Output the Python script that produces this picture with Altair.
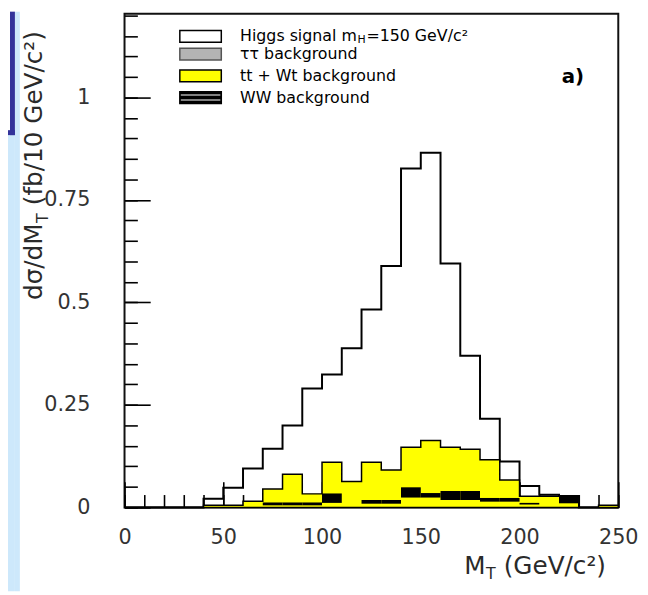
import altair as alt
import pandas as pd

# ---------------- data ----------------
bin_lo = list(range(0, 250, 10))          # M_T bin lower edges, 10 GeV bins
signal = [0, 0, 0, 0, 0.021, 0.048, 0.095, 0.143, 0.200, 0.290, 0.324, 0.388, 0.483,
          0.589, 0.827, 0.865, 0.595, 0.370, 0.216, 0.112, 0.052, 0.031, 0.028, 0, 0]
ttbar = [0, 0, 0, 0, 0.005, 0.005, 0.015, 0.045, 0.081, 0.033, 0.110, 0.063, 0.110,
         0.091, 0.147, 0.163, 0.147, 0.142, 0.116, 0.067, 0.027, 0.027, 0.027, 0, 0.005]
ww_lo = [0, 0, 0, 0, 0, 0, 0, 0.005, 0.005, 0.005, 0.011, 0, 0.009, 0.009, 0.024,
         0.024, 0.018, 0.018, 0.014, 0.014, 0.007, 0, 0.010, 0, 0]
ww_hi = [0, 0, 0, 0, 0, 0, 0, 0.012, 0.012, 0.012, 0.034, 0, 0.018, 0.018, 0.049,
         0.035, 0.040, 0.040, 0.023, 0.023, 0.011, 0, 0.028, 0, 0]

x_major = [0, 50, 100, 150, 200, 250]
x_minor = list(range(0, 251, 10))
y_major = [0, 0.25, 0.5, 0.75, 1.0]
y_minor = [round(0.05 * i, 2) for i in range(25)]

leg_labels = ["Higgs signal m", "\u03c4\u03c4 background", "tt + Wt background", "WW background"]
leg_fill = ["white", "#b4b4b4", "#ffff00", "black"]
leg_stroke = ["black", "#555555", "black", "black"]

# ---------------- tables ----------------
edges = bin_lo + [250]
df_sig = pd.DataFrame({"m": edges, "v": signal + [signal[-1]]})
df_tt = pd.DataFrame({"m": edges, "v": ttbar + [ttbar[-1]]})
df_ww = pd.DataFrame({"m0": bin_lo, "m1": [b + 10 for b in bin_lo], "lo": ww_lo, "hi": ww_hi})
df_ww = df_ww[df_ww["hi"] > 0]
one = pd.DataFrame({"k": [0]})

FONT = "DejaVu Sans"
W, H = 500, 500
xs = alt.Scale(domain=[0, 250], nice=False, zero=False)
ys = alt.Scale(domain=[0, 1.2046], nice=False, zero=False)

x_main = alt.Axis(values=x_major, orient="bottom", ticks=False, tickSize=0, domain=False,
                  grid=False, labelFont=FONT, labelFontSize=21, labelColor="#333333",
                  labelPadding=20, labelFlush=False, labelOverlap=False, labelBound=False,
                  title=None, format="d")
y_main = alt.Axis(values=y_major, orient="left", ticks=False, tickSize=0, domain=False,
                  grid=False, labelFont=FONT, labelFontSize=21, labelColor="#333333",
                  labelPadding=35, labelFlush=False, labelOverlap=False, title=None,
                  format="~g")


def tick_axis(orient, vals, size):
    return alt.Axis(orient=orient, offset=-500, values=vals, labels=False, domain=False,
                    grid=False, ticks=True, tickSize=size, tickColor="black",
                    tickWidth=1.6, title=None)


def prect(x0, x1, y0, y1, color, stroke=None, sw=0):
    kw = {"color": color}
    if stroke:
        kw.update(stroke=stroke, strokeWidth=sw)
    return alt.Chart(one).mark_rect(**kw).encode(
        x=alt.value(x0), x2=alt.value(x1), y=alt.value(y0), y2=alt.value(y1))


def ptext(txt, x, y, size, angle=0, align="left", baseline="alphabetic",
          weight="normal", color="black"):
    kw = dict(text=txt, font=FONT, fontSize=size, align=align, baseline=baseline,
              fontWeight=weight, color=color)
    if angle:
        kw["angle"] = angle
    return alt.Chart(one).mark_text(**kw).encode(x=alt.value(x), y=alt.value(y))


layers = []

# page decoration (slide background)
LB = "#cde8fb"
DB = "#33339a"
layers += [
    prect(-111, -106, -2, 585, LB),
    prect(-118, -111, 123, 585, LB),
    prect(-116, -111, -2, 123, DB),
    prect(-118, -111, 118, 123, DB),
]

# inward ticks (minor + major) on x and y
layers.append(alt.Chart(df_sig).mark_point(opacity=0).encode(
    x=alt.X("m:Q", scale=xs, axis=tick_axis("top", x_minor, 13)),
    y=alt.Y("v:Q", scale=ys, axis=tick_axis("right", y_minor, 13))))
layers.append(alt.Chart(df_sig).mark_point(opacity=0).encode(
    x=alt.X("m:Q", scale=xs, axis=tick_axis("top", x_major, 26)),
    y=alt.Y("v:Q", scale=ys, axis=tick_axis("right", y_major, 26))))

# signal histogram (outline)
layers.append(alt.Chart(df_sig).mark_line(interpolate="step-after", color="black",
                                           strokeWidth=2).encode(
    x=alt.X("m:Q", scale=xs, axis=x_main),
    y=alt.Y("v:Q", scale=ys, axis=y_main)))

# tt + Wt background (yellow filled)
layers.append(alt.Chart(df_tt).mark_area(interpolate="step-after", fill="#ffff00",
                                          stroke="black", strokeWidth=1.5).encode(
    x=alt.X("m:Q", scale=xs, axis=None),
    y=alt.Y("v:Q", scale=ys, axis=None)))

# WW background (black bands)
layers.append(alt.Chart(df_ww).mark_rect(color="black").encode(
    x=alt.X("m0:Q", scale=xs, axis=None), x2="m1:Q",
    y=alt.Y("lo:Q", scale=ys, axis=None), y2="hi:Q"))

# legend
row_y = [23, 41, 63, 85]
for i, lab in enumerate(leg_labels):
    cy = row_y[i]
    layers.append(prect(56, 98, cy - 6, cy + 6, leg_fill[i], leg_stroke[i], 1.5))
    layers.append(ptext(lab, 117, cy, 16, baseline="middle"))
layers.append(prect(57, 97, row_y[3] - 3, row_y[3] - 2, "white"))
layers.append(prect(57, 97, row_y[3] + 2, row_y[3] + 3, "white"))
layers.append(ptext("H", 236, row_y[0] + 4, 11, baseline="middle"))
layers.append(ptext("=150 GeV/c\u00b2", 245, row_y[0], 16, baseline="middle"))

# panel label
layers.append(ptext("a)", 454, 64, 20, align="center", baseline="middle", weight="bold"))

# x axis title  M_T (GeV/c^2)
TC = "#2a2a2a"
layers.append(ptext("M", 344, 567, 25, color=TC))
layers.append(ptext("T", 366, 573, 16, color=TC))
layers.append(ptext("(GeV/c\u00b2)", 384, 567, 25, color=TC))

# y axis title  dsigma/dM_T (fb/10 GeV/c^2)
layers.append(ptext("d\u03c3/dM", -84, 290, 25, angle=270, color=TC))
layers.append(ptext("T", -77, 212, 16, angle=270, color=TC))
layers.append(ptext("(fb/10 GeV/c\u00b2)", -84, 194, 25, angle=270, color=TC))

chart = alt.layer(*layers).resolve_axis(x="independent", y="independent").properties(
    width=W, height=H,
    padding={"left": 118, "top": 2, "right": 22, "bottom": 85},
    autosize=alt.AutoSizeParams(type="none"),
    background="white",
).configure_view(stroke="#111111", strokeWidth=2)

chart.save("out.html", embed_options={"renderer": "svg", "actions": False})
